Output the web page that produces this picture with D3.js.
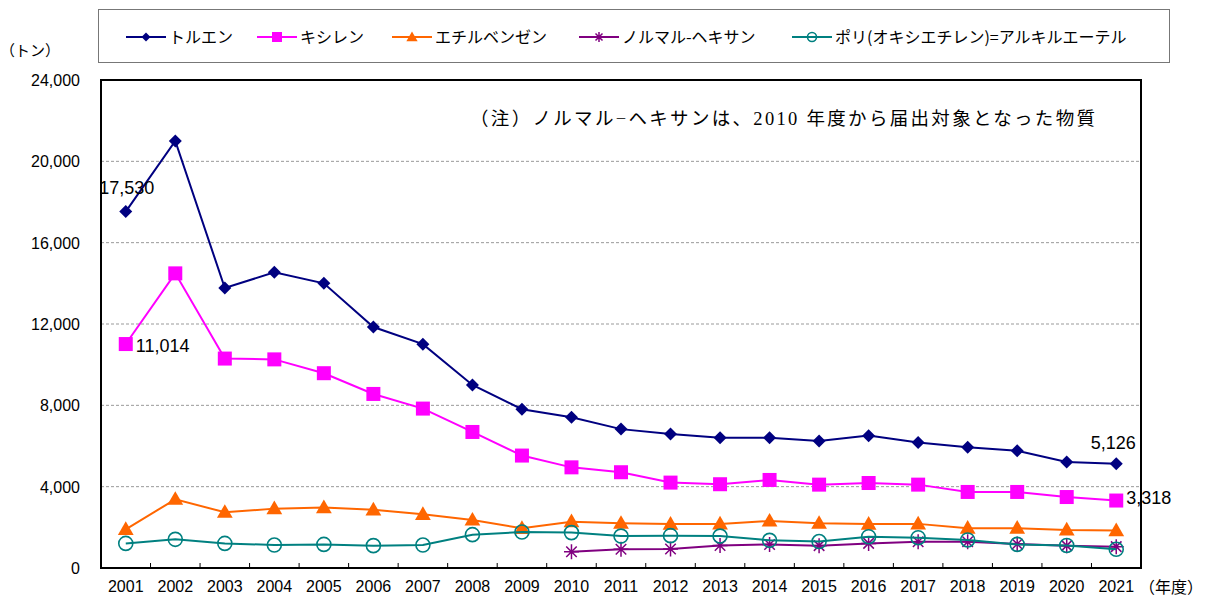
<!DOCTYPE html>
<html>
<head>
<meta charset="utf-8">
<script src="https://cdn.jsdelivr.net/npm/d3@7"></script>
<style>
body { margin: 0; background: #fff; }
svg { display: block; }
.tick text { font-family: "Liberation Sans", Arial, sans-serif; font-size: 16px; fill: #000; }
.grid line { stroke: #999; stroke-dasharray: 3,2; stroke-width: 1; }
.jp { font-family: "Noto Sans CJK JP", sans-serif; }
</style>
</head>
<body>
<svg id="chart" width="1205" height="597"></svg>
<script>

var years = ["2001","2002","2003","2004","2005","2006","2007","2008","2009","2010","2011",
             "2012","2013","2014","2015","2016","2017","2018","2019","2020","2021"];

var yTicks = [0, 4000, 8000, 12000, 16000, 20000, 24000];

var toluene = [17530, 21000, 13770, 14540, 14000, 11850, 11010, 9000, 7810, 7410, 6830,
               6590, 6400, 6410, 6250, 6510, 6170, 5940, 5770, 5210, 5126];
var xylene = [11014, 14490, 10300, 10260, 9580, 8560, 7840, 6690, 5530, 4950, 4710,
              4200, 4120, 4330, 4100, 4180, 4100, 3740, 3740, 3490, 3318];
var ethylbenzene = [1900, 3380, 2740, 2920, 2970, 2860, 2640, 2360, 1950, 2280, 2200,
                    2160, 2170, 2310, 2200, 2160, 2170, 1960, 1960, 1870, 1840];
var hexane = [null, null, null, null, null, null, null, null, null, 800, 920,
              930, 1110, 1160, 1100, 1210, 1290, 1290, 1180, 1100, 1050];
var polyoxy = [1210, 1410, 1210, 1130, 1160, 1100, 1130, 1640, 1770, 1740, 1570,
               1590, 1570, 1360, 1300, 1540, 1490, 1380, 1160, 1110, 920];

var series = [
  {name: "トルエン", values: toluene, color: "#000080", marker: "diamond"},
  {name: "キシレン", values: xylene, color: "#FF00FF", marker: "square"},
  {name: "エチルベンゼン", values: ethylbenzene, color: "#FF6600", marker: "triangle"},
  {name: "ノルマル-ヘキサン", values: hexane, color: "#800080", marker: "star"},
  {name: "ポリ(オキシエチレン)=アルキルエーテル", values: polyoxy, color: "#008080", marker: "circle"}
];

/// data labels: [series index, year index, text, dx, dy, anchor]
var labels = [
  [0, 0, "17,530", 1, -24, "middle"],
  [1, 0, "11,014", 10, 2, "start"],
  [0, 20, "5,126", -3, -21, "middle"],
  [1, 20, "3,318", 10, -3, "start"]
];

var svg = d3.select("#chart"),
    margin = {top: 80, right: 64, bottom: 29, left: 101},
    width = +svg.attr("width") - margin.left - margin.right,
    height = +svg.attr("height") - margin.top - margin.bottom;

var g = svg.append("g").attr("transform", "translate(" + margin.left + "," + margin.top + ")");

var x = d3.scaleBand().domain(years).range([0, width]);
var y = d3.scaleLinear().domain([0, 24000]).range([height, 0]);
var cx = function(i) { return x(years[i]) + x.bandwidth() / 2; };

/// gridlines
g.append("g")
    .attr("class", "grid")
  .selectAll("line")
  .data(yTicks.filter(function(d) { return d > 0 && d < 24000; }))
  .enter().append("line")
    .attr("x1", 0).attr("x2", width)
    .attr("y1", function(d) { return y(d); })
    .attr("y2", function(d) { return y(d); });

/// y axis labels
var yAxis = d3.axisLeft(y).tickValues(yTicks).tickSize(0).tickPadding(21)
    .tickFormat(d3.format(","));
g.append("g").call(yAxis).call(function(a) { a.select(".domain").remove(); })
  .selectAll("text").attr("dy", "0.35em");

/// x axis labels
var xAxis = d3.axisBottom(x).tickSize(0).tickPadding(13);
g.append("g").attr("transform", "translate(0," + height + ")").call(xAxis)
  .call(function(a) { a.select(".domain").remove(); });

/// x tick marks at band edges, pointing up
g.append("g").selectAll("line")
  .data(years.slice(1))
  .enter().append("line")
    .attr("x1", function(d) { return x(d); })
    .attr("x2", function(d) { return x(d); })
    .attr("y1", height).attr("y2", height - 5)
    .attr("stroke", "#000").attr("stroke-width", 1);

/// plot frame
g.append("rect")
    .attr("width", width).attr("height", height)
    .attr("fill", "none").attr("stroke", "#000").attr("stroke-width", 2);

/// unit labels
svg.append("text").attr("class", "jp").attr("x", 0).attr("y", 56)
    .attr("font-size", 15)
    .text("（トン）");
svg.append("text").attr("class", "jp").attr("x", 1203).attr("y", 593)
    .attr("text-anchor", "end")
    .attr("font-size", 16)
    .text("（年度）");

/// note
svg.append("text")
    .attr("x", 470).attr("y", 125)
    .attr("font-family", "'Liberation Serif', 'Noto Sans CJK JP', serif")
    .attr("font-size", 18.5).attr("textLength", 625)
    .text("（注）ノルマル−ヘキサンは、2010 年度から届出対象となった物質");

/// marker drawing
function drawMarker(sel, type, color, size) {
  if (type === "diamond") {
    sel.append("path").attr("d", d3.symbol(d3.symbolSquare, size * size * 0.5)())
      .attr("transform", "rotate(45)").attr("fill", color);
  } else if (type === "square") {
    sel.append("rect").attr("x", -size / 2).attr("y", -size / 2)
      .attr("width", size).attr("height", size).attr("fill", color);
  } else if (type === "triangle") {
    sel.append("path").attr("d", d3.symbol(d3.symbolTriangle, size * size * 0.55)())
      .attr("transform", "translate(0,1)").attr("fill", color);
  } else if (type === "star") {
    var r = size / 2;
    sel.append("path")
      .attr("d", "M" + (-r) + ",0L" + r + ",0M" + (-r * 0.7) + "," + (-r * 0.7) + "L" + (r * 0.7) + "," + (r * 0.7) +
                 "M" + (-r * 0.7) + "," + (r * 0.7) + "L" + (r * 0.7) + "," + (-r * 0.7) + "M0," + (-r) + "L0," + r)
      .attr("stroke", color).attr("stroke-width", 1.5).attr("fill", "none");
  } else if (type === "circle") {
    sel.append("circle").attr("r", size / 2).attr("fill", "none")
      .attr("stroke", color).attr("stroke-width", 1.6);
  }
}

/// lines and markers
series.forEach(function(s) {
  var line = d3.line()
      .defined(function(d) { return d != null; })
      .x(function(d, i) { return cx(i); })
      .y(function(d) { return y(d); });

  g.append("path")
      .datum(s.values)
      .attr("fill", "none")
      .attr("stroke", s.color)
      .attr("stroke-width", 2)
      .attr("d", line);

  s.values.forEach(function(v, i) {
    if (v == null) return;
    var m = g.append("g").attr("transform", "translate(" + cx(i) + "," + y(v) + ")");
    drawMarker(m, s.marker, s.color, s.marker === "star" ? 15 : (s.marker === "diamond" ? 13 : 14));
  });
});

/// data labels
labels.forEach(function(l) {
  var v = series[l[0]].values[l[1]];
  g.append("text")
      .attr("x", cx(l[1]) + l[3])
      .attr("y", y(v) + l[4])
      .attr("dy", "0.35em")
      .attr("text-anchor", l[5])
      .attr("font-family", "'Liberation Sans', Arial, sans-serif")
      .attr("font-size", 18)
      .text(l[2]);
});

/// legend
var legend = svg.append("g");
legend.append("rect")
    .attr("x", 98.5).attr("y", 9.5).attr("width", 1071).attr("height", 53)
    .attr("fill", "#fff").attr("stroke", "#777").attr("stroke-width", 1);

var legendX = [126, 257, 392, 579, 792];
series.forEach(function(s, i) {
  var lg = legend.append("g").attr("transform", "translate(" + legendX[i] + ",37)");
  lg.append("line").attr("x1", 0).attr("x2", 40).attr("stroke", s.color).attr("stroke-width", 2);
  var m = lg.append("g").attr("transform", "translate(20,0)");
  drawMarker(m, s.marker, s.color, s.marker === "diamond" ? 9 : 10);
  m.selectAll("circle").attr("r", 4.5);
  lg.append("text").attr("class", "jp")
      .attr("x", 43).attr("dy", "0.35em")
      .attr("font-size", 16)
      .text(s.name);
});

</script>
</body>
</html>
